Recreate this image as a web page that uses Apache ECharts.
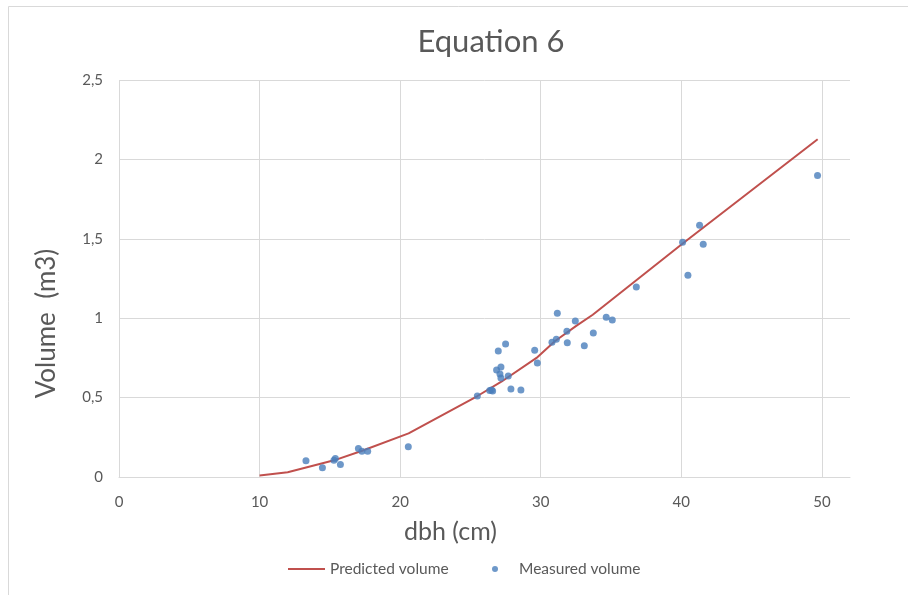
<!DOCTYPE html>
<html>
<head>
<meta charset="utf-8">
<script src="https://cdn.jsdelivr.net/npm/echarts@6/dist/echarts.min.js"></script>
<style>
  html, body { margin: 0; padding: 0; background: #fff; }
  #chart { width: 908px; height: 595px; }
</style>
</head>
<body>
<div id="chart"></div>
<script>
// Measured trees: diameter at breast height (cm) and stem volume (m3)
const dbhMeasured = [13.3, 14.47, 15.29, 15.39, 15.75, 17.03, 17.28, 17.69, 20.58, 25.49,
  26.37, 26.5, 26.58, 26.86, 26.98, 27.1, 27.17, 27.17, 27.5, 27.69,
  27.88, 28.59, 29.57, 29.76, 30.8, 31.11, 31.18, 31.86, 31.89, 32.46,
  33.1, 33.74, 34.66, 35.09, 36.8, 40.09, 40.47, 41.3, 41.56, 49.69];
const volMeasured = [0.103, 0.059, 0.105, 0.116, 0.078, 0.179, 0.162, 0.162, 0.191, 0.51,
  0.544, 0.548, 0.542, 0.674, 0.794, 0.649, 0.693, 0.624, 0.838, 0.636,
  0.554, 0.548, 0.798, 0.718, 0.849, 0.868, 1.031, 0.918, 0.845, 0.983,
  0.826, 0.907, 1.006, 0.988, 1.197, 1.479, 1.271, 1.586, 1.466, 1.899];

// Predicted volume curve (Equation 6)
const dbhPredicted = [10, 12, 15.3, 17.3, 20.6, 25.5, 27.2, 29.7, 31, 32.5, 33.7, 40.1, 49.7];
const volPredicted = [0.01, 0.03, 0.105, 0.165, 0.275, 0.51, 0.6, 0.75, 0.855, 0.95, 1.022, 1.47, 2.127];

const seriesNames = ['Predicted volume', 'Measured volume'];
const chartTitle = 'Equation 6';
const xAxisTitle = 'dbh (cm)';
const yAxisTitle = 'Volume  (m3)';

const FONT = 'Lato, "Open Sans", sans-serif';
const GREY = '#595959';
const GRID = '#d9d9d9';

const predictedPts = dbhPredicted.map((d, i) => [d, volPredicted[i]]);
const measuredPts = dbhMeasured.map((d, i) => [d, volMeasured[i]]);

const chart = echarts.init(document.getElementById('chart'), null, { renderer: 'canvas' });

chart.setOption({
  animation: false,
  backgroundColor: '#fff',
  textStyle: { fontFamily: FONT },
  title: {
    text: chartTitle,
    left: 486,
    top: 21,
    textAlign: 'center',
    textStyle: { fontFamily: FONT, fontSize: 31, fontWeight: 'normal', color: GREY }
  },
  graphic: [{
    type: 'rect',
    silent: true,
    z: -1,
    shape: { x: 8.5, y: 6.5, width: 1000, height: 1000 },
    style: { fill: 'none', stroke: GRID, lineWidth: 1 }
  }],
  legend: [{
    left: 288,
    top: 561,
    padding: 0,
    itemWidth: 37,
    itemHeight: 2,
    data: [{ name: seriesNames[0], icon: 'rect' }],
    textStyle: { fontFamily: FONT, fontSize: 15.5, color: GREY }
  }, {
    left: 492,
    top: 561,
    padding: 0,
    itemWidth: 38,
    itemHeight: 6,
    symbolKeepAspect: true,
    data: [{ name: seriesNames[1], icon: 'circle' }],
    textStyle: { fontFamily: FONT, fontSize: 15.5, color: GREY }
  }],
  grid: { left: 119, top: 80, right: 58, bottom: 118, containLabel: false },
  xAxis: {
    type: 'value',
    min: 0,
    max: 52,
    interval: 10,
    name: xAxisTitle,
    nameLocation: 'middle',
    nameGap: 42,
    nameTextStyle: { fontFamily: FONT, fontSize: 25, color: GREY, padding: [0, 68, 0, 0] },
    axisLine: { show: true, lineStyle: { color: GRID, width: 1 } },
    axisTick: { show: false },
    axisLabel: { fontFamily: FONT, fontSize: 15, color: GREY, margin: 18, showMaxLabel: false },
    splitLine: { show: true, showMaxLine: false, lineStyle: { color: GRID, width: 1 } }
  },
  yAxis: {
    type: 'value',
    min: 0,
    max: 2.5,
    interval: 0.5,
    name: yAxisTitle,
    nameLocation: 'middle',
    nameGap: 59,
    nameTextStyle: { fontFamily: FONT, fontSize: 26, color: GREY, padding: [0, 90, 0, 0] },
    axisLine: { show: false },
    axisTick: { show: false },
    axisLabel: {
      fontFamily: FONT, fontSize: 15, color: GREY, margin: 16,
      formatter: v => String(v).replace('.', ',')
    },
    splitLine: { show: true, lineStyle: { color: GRID, width: 1 } }
  },
  series: [{
    name: seriesNames[0],
    type: 'line',
    data: predictedPts,
    symbol: 'none',
    smooth: false,
    lineStyle: { color: '#c0504d', width: 2 },
    itemStyle: { color: '#c0504d' },
    z: 2
  }, {
    name: seriesNames[1],
    type: 'scatter',
    data: measuredPts,
    symbol: 'circle',
    symbolSize: 7,
    itemStyle: { color: '#4a7ebb' },
    z: 3
  }]
});
</script>
</body>
</html>
